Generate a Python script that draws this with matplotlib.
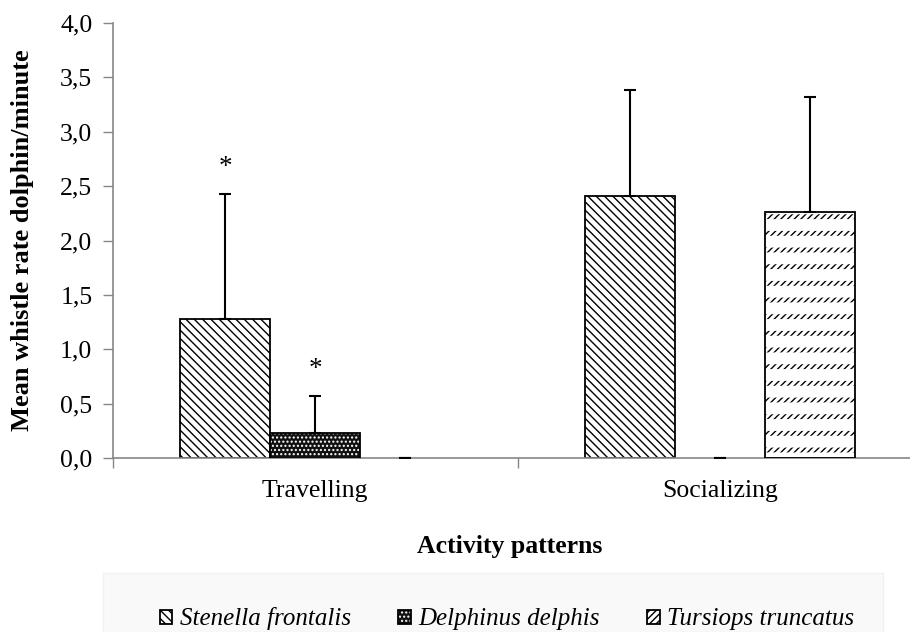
import matplotlib
matplotlib.use("Agg")
import matplotlib.pyplot as plt
import numpy as np
from matplotlib.patches import Rectangle
from matplotlib.legend_handler import HandlerTuple

# data
activities = ["Travelling", "Socializing"]
species = ["Stenella frontalis", "Delphinus delphis", "Tursiops truncatus"]
stenella = [1.28, 2.41]
stenella_err = [1.15, 0.97]
delphinus = [0.23, 0.0]
delphinus_err = [0.34, 0.0]
tursiops = [0.0, 2.26]
tursiops_err = [0.0, 1.06]
starred = [(0, 0), (1, 0)]  # (species index, activity index) marked with *
yticks = [0, 0.5, 1.0, 1.5, 2.0, 2.5, 3.0, 3.5, 4.0]

plt.rcParams['font.family'] = ['Liberation Serif', 'DejaVu Serif']
plt.rcParams['hatch.linewidth'] = 1.0
FS = 18.5

fig = plt.figure(figsize=(9.1, 6.32), dpi=100)
W, H = 910, 632
ax = fig.add_axes([112.5 / W, (H - 458) / H, 810 / W, 435 / H])

x = np.arange(len(activities))
bw = 1 / 4.5
offs = [-bw, 0, bw]
vals = [stenella, delphinus, tursiops]
errs = [stenella_err, delphinus_err, tursiops_err]

# Stenella: back diagonal lines
b1 = ax.bar(x + offs[0], stenella, bw, color='white', edgecolor='black',
            hatch='\\\\\\\\', linewidth=1.3, zorder=2)

# Delphinus: black with white dots
b2a = ax.bar(x + offs[1], delphinus, bw, color='#111111', edgecolor='white',
             hatch='....', linewidth=0, zorder=2)
b2b = ax.bar(x + offs[1], delphinus, bw, fill=False, edgecolor='black',
             linewidth=1.3, zorder=3)

# Tursiops: rows of short upward dashes
b3a = ax.bar(x + offs[2], tursiops, bw, color='white', edgecolor='black',
             hatch='/////', linewidth=0, zorder=2)
with plt.rc_context({'hatch.linewidth': 8.5}):
    b3b = ax.bar(x + offs[2], tursiops, bw, fill=False, edgecolor='white',
                 hatch='-', linewidth=0, zorder=2.5)
for p in b3b:
    if hasattr(p, 'set_hatch_linewidth'):
        p.set_hatch_linewidth(8.5)
b3c = ax.bar(x + offs[2], tursiops, bw, fill=False, edgecolor='black',
             linewidth=1.3, zorder=3)

# zero-height bars leave no outline
for cont in [b1, b2a, b2b, b3a, b3b, b3c]:
    for p in cont:
        if p.get_height() == 0:
            p.set_visible(False)

for i in range(3):
    ax.errorbar(x + offs[i], vals[i], yerr=[np.zeros(len(x)), errs[i]],
                fmt='none', ecolor='black', elinewidth=1.5, capsize=4,
                capthick=1.5, zorder=4)

for si, ai in starred:
    top = vals[si][ai] + errs[si][ai]
    ax.annotate('*', (x[ai] + offs[si], top), xytext=(0, 19),
                textcoords='offset points', ha='center', va='center',
                fontsize=FS + 1)

ax.set_xlim(-0.5, 1.5)
ax.set_ylim(0, 4)
ax.set_yticks(yticks)
ax.set_yticklabels([f"{v:.1f}".replace('.', ',') for v in yticks], fontsize=FS)
ax.set_xticks(x)
ax.set_xticklabels(activities, fontsize=FS)
ax.set_xticks([-0.5, 0.5, 1.5], minor=True)
ax.tick_params(axis='x', which='major', length=0, pad=15.5)
ax.tick_params(axis='x', which='minor', length=7, color='#868686', width=1)
ax.tick_params(axis='y', length=7, color='#868686', width=1, pad=7.5)
for s in ['top', 'right']:
    ax.spines[s].set_visible(False)
for s in ['left', 'bottom']:
    ax.spines[s].set_color('#868686')
    ax.spines[s].set_linewidth(1.2)

ax.set_ylabel("Mean whistle rate dolphin/minute", fontsize=FS + 0.5,
              fontweight='bold')
ax.yaxis.set_label_coords((34 - 112.5) / 810, 0.5)
fig.text(510 / W, 1 - 546 / H, "Activity patterns", fontsize=FS,
         fontweight='bold', ha='center', va='center')

# shaded legend area
fig.patches.append(Rectangle((103 / W, 0), 780 / W, (H - 573) / H,
                             transform=fig.transFigure, facecolor='#f9f9f9',
                             edgecolor='#f1f1f1', linewidth=1, zorder=0))


def first_shown(cont):
    return [p for p in cont if p.get_visible()][0]


handles = [first_shown(b1),
           (first_shown(b2a), first_shown(b2b)),
           (first_shown(b3a), first_shown(b3b), first_shown(b3c))]
leg = fig.legend(handles, species, loc='center', ncol=3,
                 bbox_to_anchor=(507 / W, 1 - 619 / H), frameon=False,
                 prop={'size': 18, 'style': 'italic'},
                 handler_map={tuple: HandlerTuple(ndivide=1, pad=0)},
                 handlelength=0.5, handleheight=0.5, handletextpad=0.3,
                 columnspacing=1.9)

fig.savefig("out.png", dpi=100)
